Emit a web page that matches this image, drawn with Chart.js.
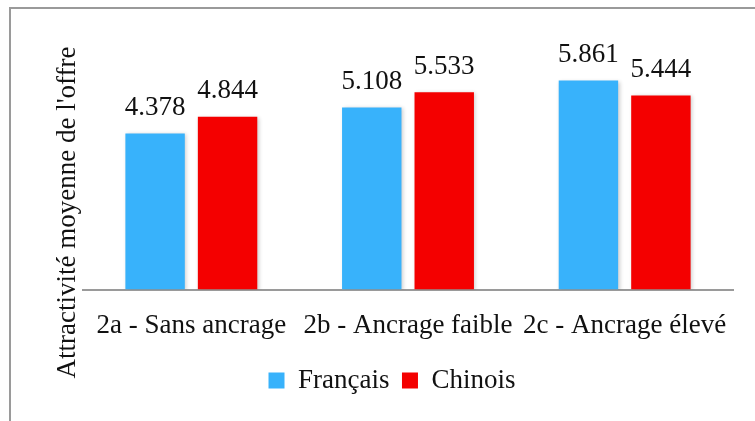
<!DOCTYPE html>
<html lang="fr">
<head>
<meta charset="utf-8">
<title>Attractivité moyenne de l'offre</title>
<script src="https://cdn.jsdelivr.net/npm/chart.js@4.4.1/dist/chart.umd.min.js"></script>
<style>
  html, body { margin: 0; padding: 0; background: #fff; }
  #wrap { position: relative; width: 755px; height: 421px; overflow: hidden; }
  #frame {
    position: absolute; left: 9px; top: 7px; width: 800px; height: 500px;
    border-left: 2px solid #9a9a9a; border-top: 2px solid #9a9a9a;
  }
  #c { position: absolute; left: 0; top: 0; }
</style>
</head>
<body>
<div id="wrap">
  <div id="frame"></div>
  <canvas id="c" width="755" height="421"></canvas>
</div>
<script>
// Conditions and mean offer attractiveness per group
const categories = ['2a - Sans ancrage', '2b - Ancrage faible', '2c - Ancrage élevé'];
const francais = [4.378, 5.108, 5.861];
const chinois = [4.844, 5.533, 5.444];
const seriesNames = ['Français', 'Chinois'];
const yTitle = "Attractivité moyenne de l'offre";

const FONT = "'Liberation Serif', 'Times New Roman', serif";
const INK = '#111';

// Soft drop shadow under the bars
const barShadow = {
  id: 'barShadow',
  beforeDatasetsDraw(chart) {
    const ctx = chart.ctx;
    ctx.save();
    ctx.shadowColor = 'rgba(0,0,0,0.2)';
    ctx.shadowBlur = 4;
    ctx.shadowOffsetX = 1.5;
    ctx.shadowOffsetY = 1;
  },
  afterDatasetsDraw(chart) {
    chart.ctx.restore();
  }
};

// Value written above each bar
const valueLabels = {
  id: 'valueLabels',
  afterDatasetsDraw(chart) {
    const ctx = chart.ctx;
    ctx.save();
    ctx.font = '27px ' + FONT;
    ctx.fillStyle = INK;
    ctx.textAlign = 'center';
    ctx.textBaseline = 'alphabetic';
    chart.data.datasets.forEach((ds, i) => {
      chart.getDatasetMeta(i).data.forEach((bar, j) => {
        ctx.fillText(ds.data[j].toFixed(3), bar.x, bar.y - 18.5);
      });
    });
    ctx.restore();
  }
};

// Rotated y-axis title
const axisTitle = {
  id: 'axisTitle',
  afterDraw(chart) {
    const ctx = chart.ctx;
    ctx.save();
    ctx.translate(68, 212.5);
    ctx.rotate(-Math.PI / 2);
    ctx.font = '27px ' + FONT;
    ctx.fillStyle = INK;
    ctx.textAlign = 'center';
    ctx.textBaseline = 'middle';
    ctx.fillText(yTitle, 0, 0);
    ctx.restore();
  }
};

new Chart(document.getElementById('c'), {
  type: 'bar',
  data: {
    labels: categories,
    datasets: [
      { label: seriesNames[0], data: francais, backgroundColor: '#38b2fb' },
      { label: seriesNames[1], data: chinois, backgroundColor: '#f40000' }
    ]
  },
  options: {
    responsive: false,
    animation: false,
    devicePixelRatio: 1,
    categoryPercentage: 0.669,
    barPercentage: 0.82,
    layout: { padding: { top: 40, right: 22, left: 51, bottom: 17 } },
    plugins: {
      legend: {
        position: 'bottom',
        labels: {
          font: { family: FONT, size: 27 },
          color: INK,
          boxWidth: 16,
          boxHeight: 16,
          padding: 12.5
        }
      },
      tooltip: { enabled: false }
    },
    scales: {
      x: {
        grid: { display: false },
        border: { display: true, color: '#9a9a9a', width: 2 },
        ticks: { font: { family: FONT, size: 27 }, color: INK, padding: 12, maxRotation: 0 },
        afterFit(scale) { scale.height = 65; }
      },
      y: {
        min: 0,
        max: 7,
        grid: { display: false },
        border: { display: false },
        ticks: { display: false },
        afterFit(scale) { scale.width = 32; }
      }
    }
  },
  plugins: [barShadow, valueLabels, axisTitle]
});
</script>
</body>
</html>
